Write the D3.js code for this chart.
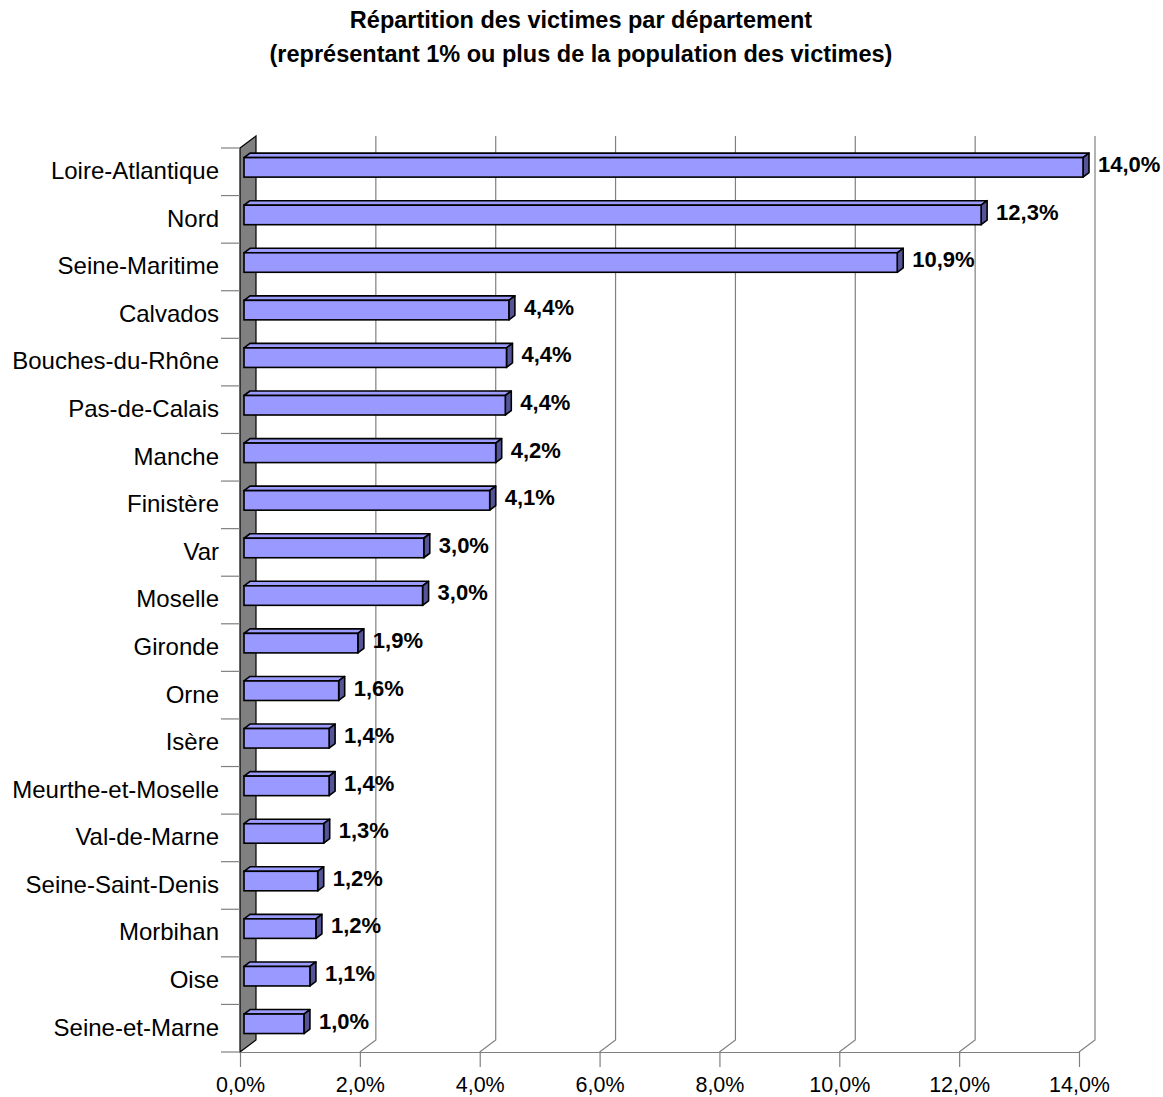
<!DOCTYPE html>
<html>
<head>
<meta charset="utf-8">
<script src="https://cdn.jsdelivr.net/npm/d3@7"></script>
<style>
  html, body { margin: 0; padding: 0; background: #fff; }
  svg { display: block; font-family: "Liberation Sans", Arial, sans-serif; }
</style>
</head>
<body>
<svg id="chart" width="1163" height="1097"></svg>
<script>
const titleLines = ["Répartition des victimes par département", "(représentant 1% ou plus de la population des victimes)"];
const categories = ["Loire-Atlantique", "Nord", "Seine-Maritime", "Calvados", "Bouches-du-Rhône", "Pas-de-Calais", "Manche", "Finistère", "Var", "Moselle", "Gironde", "Orne", "Isère", "Meurthe-et-Moselle", "Val-de-Marne", "Seine-Saint-Denis", "Morbihan", "Oise", "Seine-et-Marne"];
const values = [14.0, 12.3, 10.9, 4.42, 4.38, 4.36, 4.2, 4.1, 3.0, 2.98, 1.9, 1.58, 1.42, 1.42, 1.33, 1.23, 1.2, 1.1, 1.0];
const tickValues = [0, 2, 4, 6, 8, 10, 12, 14];

(function () {
const fmt = v => v.toFixed(1).replace(".", ",") + "%";

const svg = d3.select("#chart");

// layout
const pL = 240, pR = 1079, pT = 148, pB = 1052;
const depth = { dx: 16, dy: -12 };        // full depth offset of the 3D box
const barFront = 0.25, barBack = 0.625;   // bar depth fractions

const x = d3.scaleLinear().domain([0, 14]).range([pL, pR]);
const y = d3.scaleBand().domain(categories).range([pT, pB]).padding(0);

// title
svg.append("g").selectAll("text").data(titleLines).join("text")
  .attr("x", 581).attr("y", (d, i) => 28 + i * 34)
  .attr("text-anchor", "middle")
  .attr("font-weight", "bold").attr("font-size", 23.5)
  .attr("fill", "#000")
  .text(d => d);

// back grid lines with slanted floor segments
const grid = svg.append("g");
tickValues.filter(v => v > 0).forEach(v => {
  const xf = x(v);
  grid.append("path")
    .attr("d", `M${xf + depth.dx},${pT + depth.dy} L${xf + depth.dx},${pB + depth.dy} L${xf},${pB}`)
    .attr("fill", "none").attr("stroke", "#808080").attr("stroke-width", 1.2);
});

// left wall
svg.append("path")
  .attr("d", `M${pL},${pT} L${pL + depth.dx},${pT + depth.dy} L${pL + depth.dx},${pB + depth.dy} L${pL},${pB} Z`)
  .attr("fill", "#808080").attr("stroke", "#000").attr("stroke-width", 1.2);

// x axis
const xAxis = svg.append("g").attr("transform", `translate(0,${pB})`)
  .call(d3.axisBottom(x).tickValues(tickValues).tickFormat(fmt).tickSize(15).tickSizeOuter(0));
xAxis.select(".domain").attr("stroke", "#808080").attr("stroke-width", 1.2);
xAxis.selectAll(".tick line").attr("stroke", "#808080").attr("stroke-width", 1.2);
xAxis.selectAll(".tick text").attr("font-size", 21.5).attr("fill", "#000")
  .attr("font-family", "'Liberation Sans', Arial, sans-serif").attr("dy", "22px");

// y axis ticks at band boundaries
const bounds = categories.map(c => y(c)).concat([pB]);
svg.append("g").selectAll("line").data(bounds).join("line")
  .attr("x1", 221).attr("x2", pL).attr("y1", d => d).attr("y2", d => d)
  .attr("stroke", "#808080").attr("stroke-width", 1.2);

// category labels
svg.append("g").selectAll("text").data(categories).join("text")
  .attr("x", 219).attr("y", d => y(d) + y.bandwidth() / 2 + 1)
  .attr("text-anchor", "end").attr("dominant-baseline", "middle")
  .attr("font-size", 24).attr("fill", "#000")
  .text(d => d);

// bars
const bw = y.bandwidth();
const bdx = (barBack - barFront) * depth.dx, bdy = (barBack - barFront) * depth.dy;
const ox = barFront * depth.dx, oy = barFront * depth.dy;
const barH = bw * 0.41;
const bars = svg.append("g");
categories.forEach((c, i) => {
  const v = values[i];
  const x0 = x(0) + ox, x1 = x(v) + ox;
  const yT = y(c) + oy + bw * 0.265, yB = yT + barH;
  const g = bars.append("g");
  g.append("path")
    .attr("d", `M${x0},${yT} L${x0 + bdx},${yT + bdy} L${x1 + bdx},${yT + bdy} L${x1},${yT} Z`)
    .attr("fill", "#9c9cff").attr("stroke", "#000").attr("stroke-width", 1.6).attr("stroke-linejoin", "round");
  g.append("path")
    .attr("d", `M${x1},${yT} L${x1 + bdx},${yT + bdy} L${x1 + bdx},${yB + bdy} L${x1},${yB} Z`)
    .attr("fill", "#545496").attr("stroke", "#000").attr("stroke-width", 1.6).attr("stroke-linejoin", "round");
  g.append("rect")
    .attr("x", x0).attr("y", yT).attr("width", x1 - x0).attr("height", barH)
    .attr("fill", "#9999ff").attr("stroke", "#000").attr("stroke-width", 1.6);
  svg.append("text")
    .attr("x", x1 + bdx + 9).attr("y", (yT + yB) / 2 - 1)
    .attr("dominant-baseline", "middle")
    .attr("font-weight", "bold").attr("font-size", 22).attr("fill", "#000")
    .text(fmt(v));
});
})();
</script>
</body>
</html>
